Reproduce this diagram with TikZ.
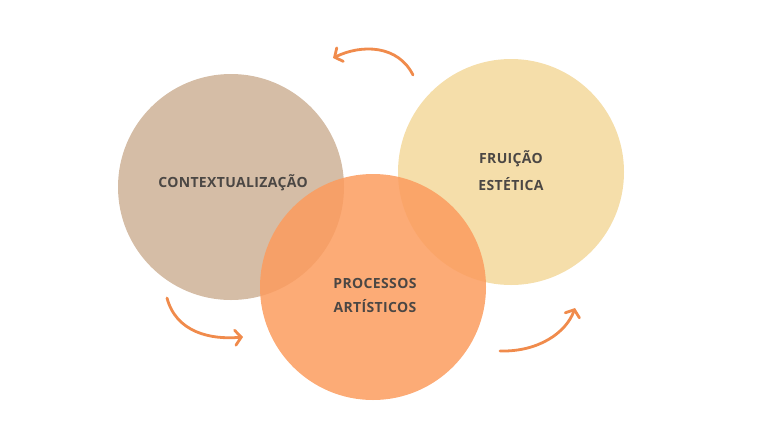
\documentclass[tikz,border=0pt]{standalone}
\usepackage{fontspec}
\setmainfont{Open Sans}[LetterSpace=2.5]
\usetikzlibrary{arrows.meta}

\definecolor{tanfill}{HTML}{D5BDA6}
\definecolor{sandfill}{HTML}{F5DEAA}
\definecolor{orangefill}{HTML}{FC9C5E}
\definecolor{arrowline}{HTML}{F08B4C}
\definecolor{labeltext}{HTML}{4B4744}

\begin{document}
\begin{tikzpicture}[x=1pt, y=-1pt,
  every node/.style={font=\fontsize{14}{24}\selectfont\bfseries, text=labeltext},
  bubble/.style={circle, minimum size=226pt, inner sep=0pt},
  turn/.style={draw=arrowline, line width=2.8pt, line cap=round,
    -{Straight Barb[length=6pt, width=15pt, line cap=round]}}]

  \useasboundingbox (0,0) rectangle (757,426);

  % Circles
  \node [bubble, fill=tanfill] (ctx) at (231,187) {};
  \node [bubble, fill=sandfill] (fru) at (511,172) {};
  \node [bubble, fill=orangefill, fill opacity=0.85] (pro) at (373,287) {};

  % Labels
  \node (lctx) at (233,183) {CONTEXTUALIZAÇÃO};
  \node [align=center, font=\fontsize{14}{27}\selectfont\bfseries] (lfru) at (511,171) {FRUIÇÃO\\ESTÉTICA};
  \node [align=center] (lpro) at (375,295) {PROCESSOS\\ARTÍSTICOS};

  % Arrow ends
  \coordinate (t1) at (413,75);
  \coordinate (h1) at (333,58);
  \coordinate (t2) at (167,298);
  \coordinate (h2) at (243,337);
  \coordinate (t3) at (500,351);
  \coordinate (h3) at (575,308);

  % Curved arrows
  \draw [turn] (t1) .. controls (398,45) and (362,44) .. (h1);
  \draw [turn] (t2) .. controls (176,332) and (210,340) .. (h2);
  \draw [turn] (t3) .. controls (538,352) and (566,333) .. (h3);
\end{tikzpicture}
\end{document}
